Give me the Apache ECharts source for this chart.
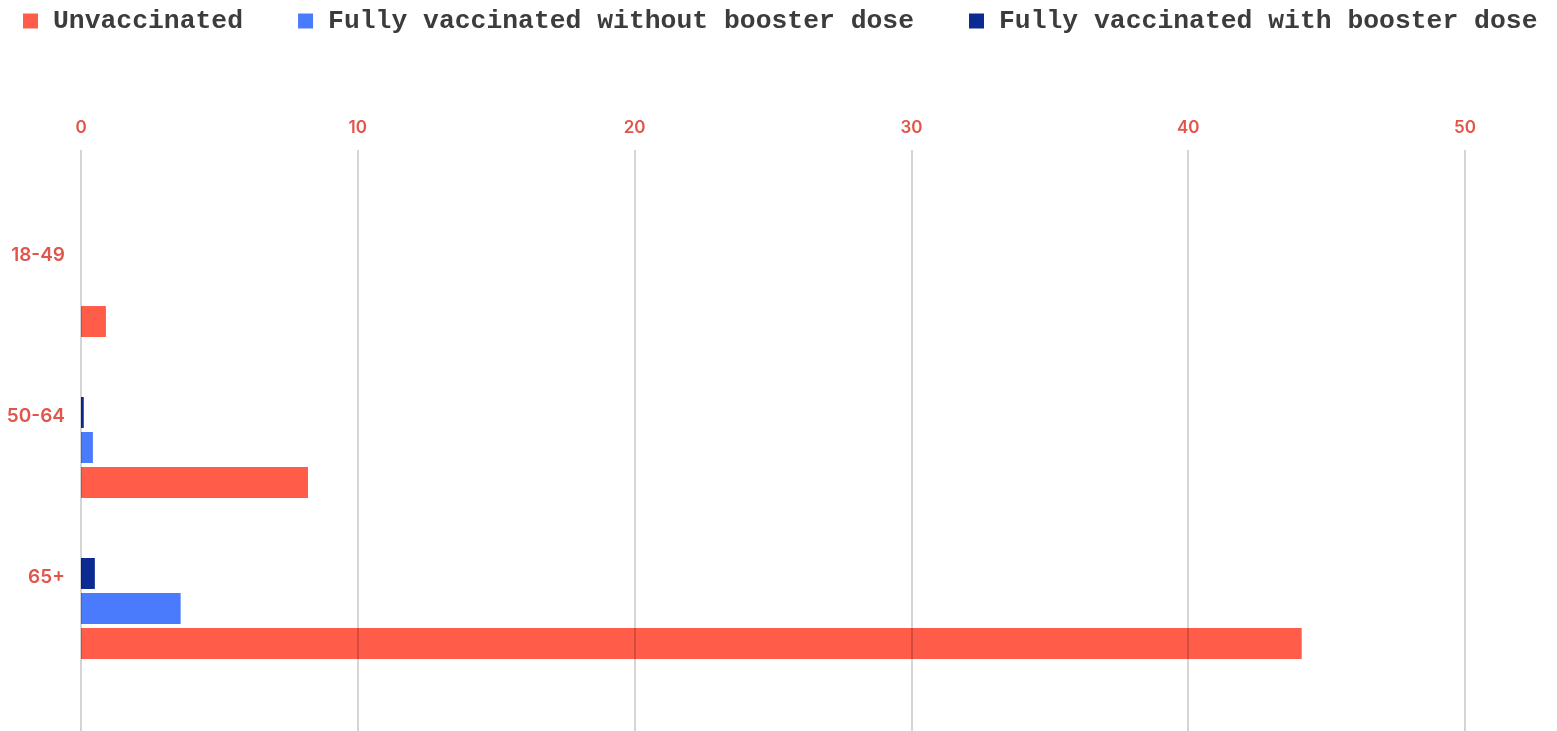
<!DOCTYPE html>
<html>
<head>
<meta charset="utf-8">
<script src="https://cdn.jsdelivr.net/npm/echarts@6/dist/echarts.min.js"></script>
<style>
html,body{margin:0;padding:0;background:#fff;}
#chart{width:1557px;height:731px;}
</style>
</head>
<body>
<div id="chart"></div>
<script>
const categories = ['18-49', '50-64', '65+'];
const unvaccinated = [0.9, 8.2, 44.1];
const withoutBooster = [0, 0.43, 3.6];
const withBooster = [0, 0.1, 0.5];
const xTicks = { min: 0, max: 50, interval: 10 };
const seriesNames = ['Unvaccinated', 'Fully vaccinated without booster dose', 'Fully vaccinated with booster dose'];

const RED = '#FF5C49', BLUE = '#4B7BFD', NAVY = '#0B2B92', LABEL = '#E2554A';

const chart = echarts.init(document.getElementById('chart'));
const bar = (name, data, color) => ({
  name, type: 'bar', data, xAxisIndex: 1, yAxisIndex: 1,
  barWidth: 31, barGap: '13%',
  itemStyle: { color }, z: 2
});
chart.setOption({
  animation: false,
  legend: {
    data: seriesNames,
    left: 18, top: 3,
    itemWidth: 15, itemHeight: 15, itemGap: 55,
    icon: 'rect',
    textStyle: { fontFamily: 'Liberation Mono', fontWeight: 'bold', fontSize: 26.4, color: '#3c3c3c', padding: [0, 0, 0, 10] }
  },
  grid: [
    { left: 81, right: 92, top: 150, bottom: 0 },
    { left: 81, right: 92, top: 206, bottom: 42 }
  ],
  xAxis: [
    {
      gridIndex: 0, type: 'value', position: 'top', min: xTicks.min, max: xTicks.max, interval: xTicks.interval,
      z: 5,
      axisLine: { show: false }, axisTick: { show: false },
      axisLabel: { color: LABEL, fontFamily: 'Inter', fontWeight: 600, fontSize: 17, margin: 14 },
      splitLine: { show: true, lineStyle: { color: 'rgba(0,0,0,0.22)', width: 1.5 } }
    },
    {
      gridIndex: 1, type: 'value', min: xTicks.min, max: xTicks.max, show: false
    }
  ],
  yAxis: [
    { gridIndex: 0, type: 'value', show: false },
    {
      gridIndex: 1, type: 'category', data: categories, inverse: true,
      axisLine: { show: false }, axisTick: { show: false },
      axisLabel: {
        color: LABEL, fontFamily: 'Inter', fontWeight: 600, fontSize: 19, margin: 16,
        lineHeight: 62, formatter: v => v + '\n\u00a0'
      }
    }
  ],
  series: [
    bar(seriesNames[2], withBooster, NAVY),
    bar(seriesNames[1], withoutBooster, BLUE),
    bar(seriesNames[0], unvaccinated, RED)
  ]
});
</script>
</body>
</html>
